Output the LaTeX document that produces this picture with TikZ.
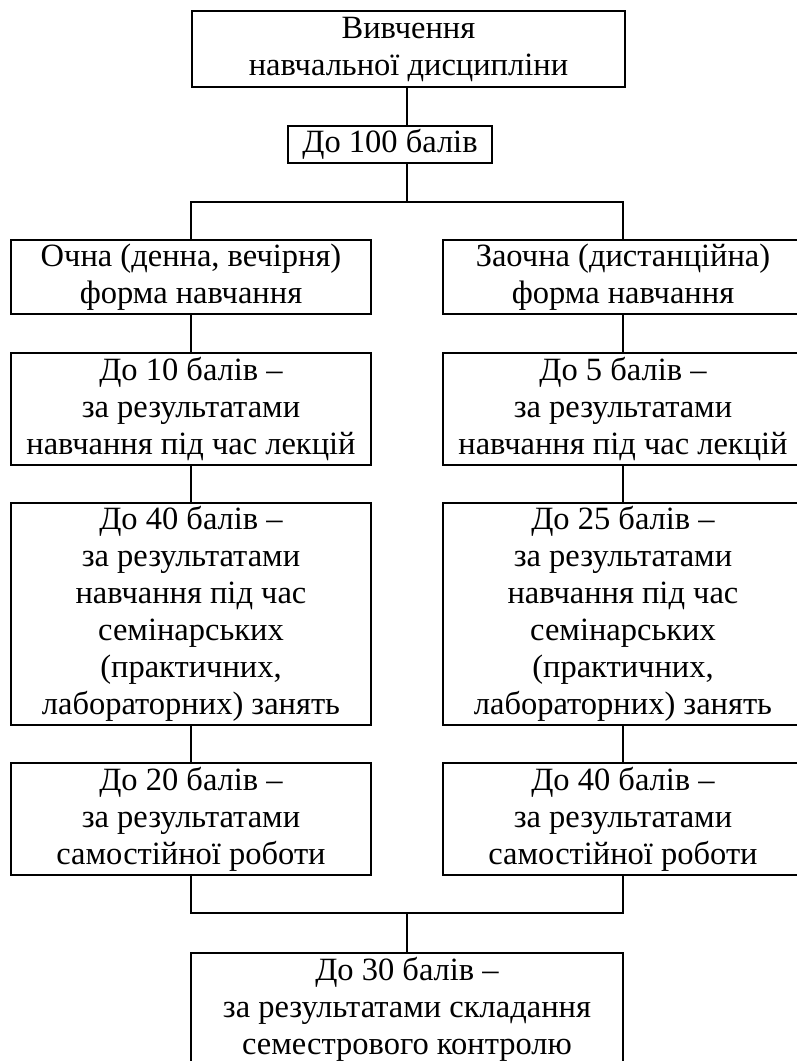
\documentclass[tikz,border=0pt]{standalone}
\usepackage{fontspec}
\setmainfont{Liberation Serif}
\begin{document}
\begin{tikzpicture}[x=1pt,y=-1pt,
  box/.style={draw, line width=2.7pt, inner sep=0pt, align=center, minimum width=360pt,
    font=\fontsize{32.5}{37}\selectfont},
  conn/.style={line width=2.7pt}]
\useasboundingbox (0,0) rectangle (797,1061);
\clip (0,0) rectangle (797,1061);
\node[box, minimum width=433pt, minimum height=76pt] (top) at (408.5,49) {Вивчення\\навчальної дисципліни};
\node[box, minimum width=204pt, minimum height=37pt] (b100) at (390,144.5) {До 100 балів};
\node[box, minimum height=74pt] (l1) at (191,277) {Очна (денна, вечірня)\\форма навчання};
\node[box, minimum height=74pt] (r1) at (623,277) {Заочна (дистанційна)\\форма навчання};
\node[box, minimum height=112pt] (l2) at (191,409) {До 10 балів --\\за результатами\\навчання під час лекцій};
\node[box, minimum height=112pt] (r2) at (623,409) {До 5 балів --\\за результатами\\навчання під час лекцій};
\node[box, minimum height=222pt] (l3) at (191,614) {До 40 балів --\\за результатами\\навчання під час\\семінарських\\(практичних,\\лабораторних) занять};
\node[box, minimum height=222pt] (r3) at (623,614) {До 25 балів --\\за результатами\\навчання під час\\семінарських\\(практичних,\\лабораторних) занять};
\node[box, minimum height=112pt] (l4) at (191,819) {До 20 балів --\\за результатами\\самостійної роботи};
\node[box, minimum height=112pt] (r4) at (623,819) {До 40 балів --\\за результатами\\самостійної роботи};
\node[box, minimum width=432pt, minimum height=112pt] (bot) at (407,1009) {До 30 балів --\\за результатами складання\\семестрового контролю};
\coordinate (s1) at (407,202);
\coordinate (j1) at (407,913);
\draw[conn] (top.south -| s1) -- (b100.north -| s1);
\draw[conn] (b100.south -| s1) -- (s1);
\draw[conn] (l1.north) |- (s1) -| (r1.north);
\draw[conn] (l1.south) -- (l2.north);
\draw[conn] (l2.south) -- (l3.north);
\draw[conn] (l3.south) -- (l4.north);
\draw[conn] (r1.south) -- (r2.north);
\draw[conn] (r2.south) -- (r3.north);
\draw[conn] (r3.south) -- (r4.north);
\draw[conn] (l4.south) |- (j1) -| (r4.south);
\draw[conn] (j1) -- (bot.north);
\end{tikzpicture}
\end{document}
